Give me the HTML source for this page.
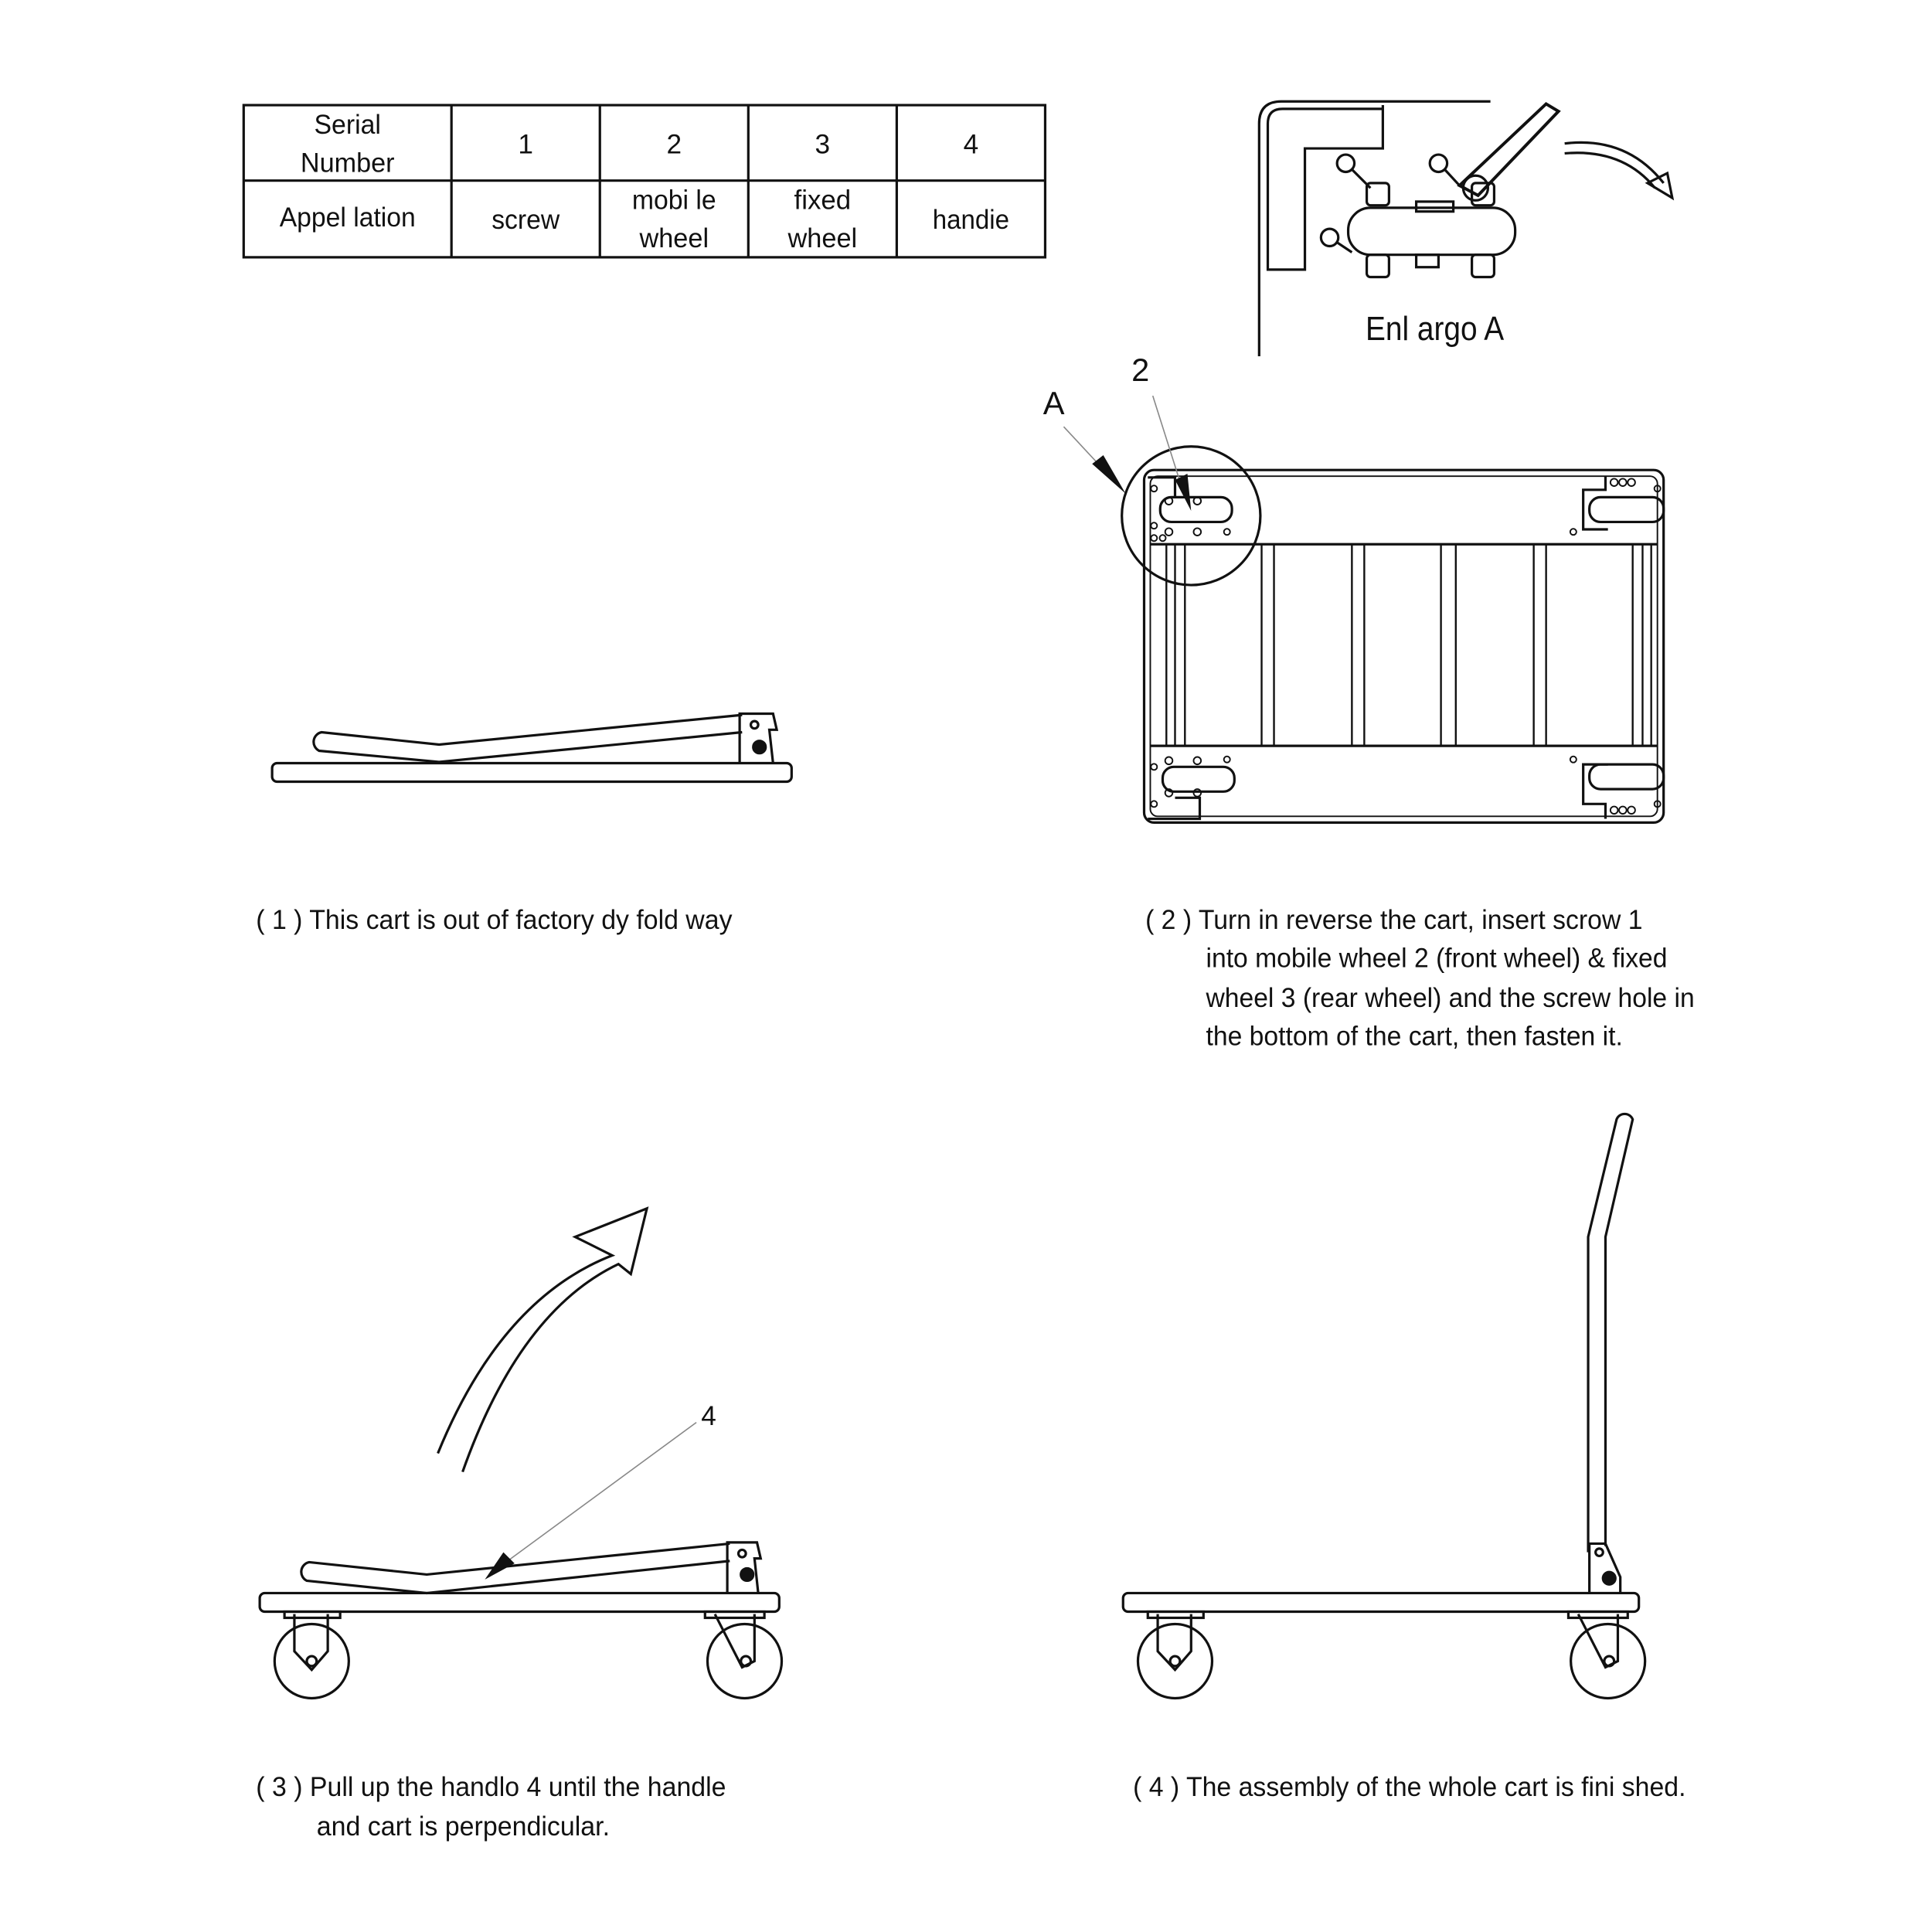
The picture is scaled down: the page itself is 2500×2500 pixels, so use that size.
<!DOCTYPE html>
<html><head><meta charset="utf-8"><style>
html,body{margin:0;padding:0;background:#fff}
svg{display:block}
text{font-family:"Liberation Sans",sans-serif;fill:#111}
</style></head><body>
<svg width="2500" height="2500" viewBox="0 0 1562 1562" xmlns="http://www.w3.org/2000/svg">
<g fill="none" stroke="#111" stroke-width="2">
<rect x="197" y="85" width="648" height="123"/>
<line x1="197" y1="146" x2="845" y2="146"/>
<line x1="365" y1="85" x2="365" y2="208"/>
<line x1="485" y1="85" x2="485" y2="208"/>
<line x1="605" y1="85" x2="605" y2="208"/>
<line x1="725" y1="85" x2="725" y2="208"/>
</g>
<g font-size="22" text-anchor="middle">
<text x="281" y="108" textLength="54" lengthAdjust="spacingAndGlyphs">Serial</text><text x="281" y="139" textLength="76" lengthAdjust="spacingAndGlyphs">Number</text>
<text x="425" y="124">1</text><text x="545" y="124">2</text><text x="665" y="124">3</text><text x="785" y="124">4</text>
<text x="281" y="183" textLength="110" lengthAdjust="spacingAndGlyphs">Appel lation</text><text x="425" y="185" textLength="55" lengthAdjust="spacingAndGlyphs">screw</text>
<text x="545" y="169" textLength="68" lengthAdjust="spacingAndGlyphs">mobi le</text><text x="545" y="200" textLength="56" lengthAdjust="spacingAndGlyphs">wheel</text>
<text x="665" y="169" textLength="46" lengthAdjust="spacingAndGlyphs">fixed</text><text x="665" y="200" textLength="56" lengthAdjust="spacingAndGlyphs">wheel</text>
<text x="785" y="185" textLength="62" lengthAdjust="spacingAndGlyphs">handie</text>
</g>

<g fill="none" stroke="#111" stroke-width="2">
<path d="M1018 288 V100 Q1018 82 1036 82 H1205"/>
<path d="M1118 85 V120 H1055 V218 H1025 V100 Q1025 88 1037 88 H1118"/>
<rect x="1090" y="168" width="135" height="38" rx="18"/>
<rect x="1105" y="148" width="18" height="18" rx="3"/><rect x="1190" y="148" width="18" height="18" rx="3"/>
<rect x="1105" y="206" width="18" height="18" rx="3"/><rect x="1190" y="206" width="18" height="18" rx="3"/>
<rect x="1145" y="163" width="30" height="8"/><rect x="1145" y="206" width="18" height="10"/>
<path d="M1180 150 L1250 84 L1260 90 L1195 158 Z" stroke-width="2.5"/>
<circle cx="1193" cy="152" r="10"/>
<circle cx="1088" cy="132" r="7"/><line x1="1093" y1="137" x2="1108" y2="152"/>
<circle cx="1163" cy="132" r="7"/><line x1="1168" y1="137" x2="1180" y2="150"/>
<circle cx="1075" cy="192" r="7"/><line x1="1081" y1="196" x2="1093" y2="204"/>
<path d="M1265 116 Q1315 110 1345 148"/>
<path d="M1265 124 Q1312 120 1338 152"/>
<path d="M1332 148 L1352 160 L1348 140 Z"/>
</g>
<text x="1160" y="275" font-size="27" text-anchor="middle" textLength="112" lengthAdjust="spacingAndGlyphs">Enl argo A</text>

<g fill="none" stroke="#111" stroke-width="2">
<rect x="925" y="380" width="420" height="285" rx="8"/>
<rect x="930" y="385" width="410" height="275" rx="6" stroke-width="1.2"/>
<line x1="930" y1="440" x2="1340" y2="440"/><line x1="930" y1="603" x2="1340" y2="603"/>
<g stroke-width="1.5">
<line x1="943" y1="440" x2="943" y2="603"/><line x1="950" y1="440" x2="950" y2="603"/><line x1="958" y1="440" x2="958" y2="603"/>
<line x1="1020" y1="440" x2="1020" y2="603"/><line x1="1030" y1="440" x2="1030" y2="603"/>
<line x1="1093" y1="440" x2="1093" y2="603"/><line x1="1103" y1="440" x2="1103" y2="603"/>
<line x1="1165" y1="440" x2="1165" y2="603"/><line x1="1177" y1="440" x2="1177" y2="603"/>
<line x1="1240" y1="440" x2="1240" y2="603"/><line x1="1250" y1="440" x2="1250" y2="603"/>
<line x1="1320" y1="440" x2="1320" y2="603"/><line x1="1328" y1="440" x2="1328" y2="603"/><line x1="1335" y1="440" x2="1335" y2="603"/>
</g>
<rect x="938" y="402" width="58" height="20" rx="9"/><rect x="940" y="620" width="58" height="20" rx="9"/>
<rect x="1285" y="402" width="60" height="20" rx="9"/><rect x="1285" y="618" width="60" height="20" rx="9"/>
<path d="M928 386 H950 V402 M928 662 H970 V645 H950"/>
<path d="M1298 385 V396 H1280 V428 H1300 M1298 662 V650 H1280 V618 H1300"/>
<g stroke-width="1.2">
<circle cx="933" cy="395" r="2.5"/><circle cx="933" cy="425" r="2.5"/><circle cx="933" cy="435" r="2.5"/><circle cx="940" cy="435" r="2.5"/>
<circle cx="992" cy="430" r="2.5"/><circle cx="992" cy="614" r="2.5"/><circle cx="933" cy="620" r="2.5"/><circle cx="933" cy="650" r="2.5"/>
<circle cx="945" cy="405" r="3"/><circle cx="968" cy="405" r="3"/><circle cx="945" cy="430" r="3"/><circle cx="968" cy="430" r="3"/>
<circle cx="945" cy="615" r="3"/><circle cx="968" cy="615" r="3"/><circle cx="945" cy="641" r="3"/><circle cx="968" cy="641" r="3"/>
<circle cx="1272" cy="430" r="2.5"/><circle cx="1272" cy="614" r="2.5"/><circle cx="1340" cy="395" r="2.5"/><circle cx="1340" cy="650" r="2.5"/>
<circle cx="1305" cy="390" r="3"/><circle cx="1312" cy="390" r="3"/><circle cx="1319" cy="390" r="3"/>
<circle cx="1305" cy="655" r="3"/><circle cx="1312" cy="655" r="3"/><circle cx="1319" cy="655" r="3"/>
</g>
<circle cx="963" cy="417" r="56"/>
</g>
<line x1="860" y1="345" x2="900" y2="388" stroke="#888" stroke-width="1"/>
<polygon points="883,375 910,399 892,368" fill="#111"/>
<line x1="932" y1="320" x2="958" y2="402" stroke="#888" stroke-width="1"/>
<polygon points="950,388 963,413 960,383" fill="#111"/>
<text x="852" y="335" font-size="26" text-anchor="middle">A</text>
<text x="922" y="308" font-size="26" text-anchor="middle">2</text>

<g fill="none" stroke="#111" stroke-width="2">
<rect x="220" y="617" width="420" height="15" rx="4"/>
<path d="M600 578 L355 602 L260 592 A8 8 0 0 0 258 607 L355 616 L600 592"/>
<path d="M598 617 V577 H625 L628 590 H622 L625 617"/>
<circle cx="610" cy="586" r="3"/><circle cx="614" cy="604" r="5" fill="#111"/>
</g>
<text x="207" y="751" font-size="22" textLength="385" lengthAdjust="spacingAndGlyphs">( 1 ) This cart is out of factory dy fold way</text>

<text x="926" y="751" font-size="22" textLength="402" lengthAdjust="spacingAndGlyphs">( 2 ) Turn in reverse the cart, insert scrow 1</text>
<text x="975" y="782" font-size="22" textLength="373" lengthAdjust="spacingAndGlyphs">into mobile wheel 2 (front wheel) &amp; fixed</text>
<text x="975" y="814" font-size="22" textLength="395" lengthAdjust="spacingAndGlyphs">wheel 3 (rear wheel) and the screw hole in</text>
<text x="975" y="845" font-size="22" textLength="337" lengthAdjust="spacingAndGlyphs">the bottom of the cart, then fasten it.</text>

<g fill="none" stroke="#111" stroke-width="2">
<rect x="210" y="1288" width="420" height="15" rx="4"/>
<path d="M590 1248 L345 1273 L250 1263 A8 8 0 0 0 248 1278 L345 1288 L590 1262"/>
<path d="M588 1288 V1247 H612 L615 1260 H610 L613 1288"/>
<circle cx="600" cy="1256" r="3"/><circle cx="604" cy="1273" r="5" fill="#111"/>
<circle cx="252" cy="1343" r="30"/><path d="M238 1305 V1335 L252 1350 L265 1335 V1305"/><circle cx="252" cy="1343" r="4"/>
<circle cx="602" cy="1343" r="30"/><path d="M578 1305 L600 1348 L610 1343 V1305"/><circle cx="603" cy="1343" r="4"/>
<rect x="230" y="1303" width="45" height="5"/><rect x="570" y="1303" width="48" height="5"/>
<path d="M354 1175 Q405 1050 495 1015 L465 1000 L523 977 L510 1030 L500 1022 Q420 1060 374 1190"/>
</g>
<line x1="563" y1="1150" x2="405" y2="1266" stroke="#888" stroke-width="1"/>
<polygon points="392,1277 407,1255 416,1264" fill="#111"/>
<text x="573" y="1152" font-size="22" text-anchor="middle">4</text>
<text x="207" y="1452" font-size="22" textLength="380" lengthAdjust="spacingAndGlyphs">( 3 ) Pull up the handlo 4 until the handle</text>
<text x="256" y="1484" font-size="22" textLength="237" lengthAdjust="spacingAndGlyphs">and cart is perpendicular.</text>

<g fill="none" stroke="#111" stroke-width="2">
<rect x="908" y="1288" width="417" height="15" rx="4"/>
<path d="M1284 1255 V1000 L1307 905 A7 7 0 0 1 1320 905 L1298 1000 V1250"/>
<path d="M1285 1288 V1248 H1298 L1310 1275 V1288"/>
<circle cx="1293" cy="1255" r="3"/><circle cx="1301" cy="1276" r="5" fill="#111"/>
<circle cx="950" cy="1343" r="30"/><path d="M936 1305 V1335 L950 1350 L963 1335 V1305"/><circle cx="950" cy="1343" r="4"/>
<circle cx="1300" cy="1343" r="30"/><path d="M1276 1305 L1298 1348 L1308 1343 V1305"/><circle cx="1301" cy="1343" r="4"/>
<rect x="928" y="1303" width="45" height="5"/><rect x="1268" y="1303" width="48" height="5"/>
</g>
<text x="916" y="1452" font-size="22" textLength="447" lengthAdjust="spacingAndGlyphs">( 4 ) The assembly of the whole cart is fini shed.</text>
</svg>
</body></html>
